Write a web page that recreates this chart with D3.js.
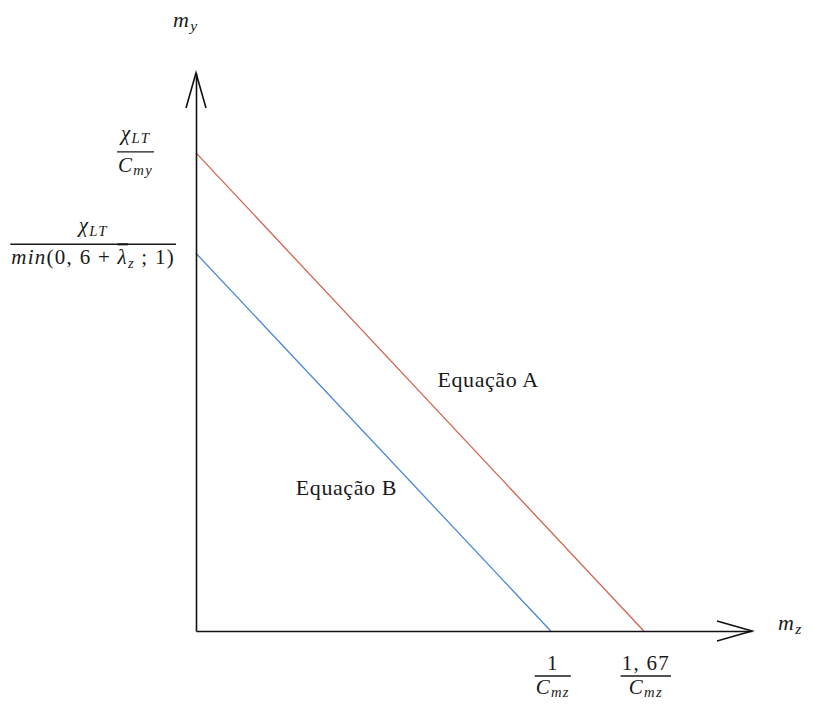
<!DOCTYPE html>
<html>
<head>
<meta charset="utf-8">
<script src="https://cdn.jsdelivr.net/npm/d3@7"></script>
<style>
  html, body { margin: 0; padding: 0; background: #fff; }
  svg { display: block; }
  text { font-family: "Liberation Serif", "Times New Roman", serif; fill: #1a1a1a; white-space: pre; }
</style>
</head>
<body>
<svg id="chart" width="813" height="704"></svg>
<script>
// Interaction diagram m_y / m_z for the two verification equations
const equations = ["Equação A", "Equação B"];
const yIntercepts = [1, 0.79];          // m_y at m_z = 0, in units of χLT/Cmy
const xIntercepts = [1.67, 1];          // m_z at m_y = 0, in units of 1/Cmz
const xTickValues = [1, 1.67];
const xTickNumerators = ["1", "1, 67"];
const xTickDenominators = ["C_{mz}", "C_{mz}"];
const yTickNumerators = ["χ_{LT}", "χ_{LT}"];
const yTickDenominators = ["C_{my}", "min(0, 6 + λ\u0304_{z} ; 1)"];
const axisLabels = ["m_{z}", "m_{y}"];

const colors = ["#d2644c", "#4a86d8"];

const svg = d3.select("#chart");

// schematic (non-proportional) horizontal scale
const x = d3.scalePow().exponent(0.454).domain([0, 2.69]).range([196, 752]);
const y = d3.scaleLinear().domain([0, 1.167]).range([631, 73]);

// --- minimal math-text renderer: letters italic, digits upright, _{..} subscripts,
//     a combining macron turns into an overline on its letter
function mathText(textSel, str, size) {
  const re = /_\{([^}]*)\}/g;
  const parts = [];
  let last = 0, m;
  while ((m = re.exec(str))) {
    if (m.index > last) parts.push({ s: str.slice(last, m.index), sub: false });
    parts.push({ s: m[1], sub: true });
    last = re.lastIndex;
  }
  if (last < str.length) parts.push({ s: str.slice(last), sub: false });
  textSel.attr("letter-spacing", size * 0.06);
  let shift = 0;
  parts.forEach(p => {
    const target = p.sub ? size * 0.16 : 0;
    const runs = p.s.match(/[A-Za-zα-ωΑ-Ω]\u0304|[A-Za-zα-ωΑ-Ω]+|[^A-Za-zα-ωΑ-Ω]+/g) || [];
    runs.forEach((r, i) => {
      const bar = r.includes("\u0304");
      const t = textSel.append("tspan").text(r.replace("\u0304", ""))
        .attr("font-style", /[A-Za-zα-ω]/.test(r) ? "italic" : "normal")
        .attr("font-size", p.sub ? size * 0.7 : size);
      if (bar) t.style("text-decoration", "overline");
      if (i === 0 && target !== shift) { t.attr("dy", target - shift); shift = target; }
    });
  });
  return textSel;
}

function fraction(g, num, den, size, numGap, denGap) {
  const n = mathText(g.append("text").attr("text-anchor", "middle").attr("y", -numGap), num, size);
  const d = mathText(g.append("text").attr("text-anchor", "middle").attr("y", denGap), den, size);
  const w = Math.max(n.node().getComputedTextLength(), d.node().getComputedTextLength()) + 2;
  g.append("line").attr("x1", -w / 2).attr("x2", w / 2)
    .attr("stroke", "#1a1a1a").attr("stroke-width", 1.3);
  return w;
}

// --- equation lines
equations.forEach((name, i) => {
  const pts = [[0, yIntercepts[i]], [xIntercepts[i], 0]];
  svg.append("path")
    .attr("d", d3.line().x(d => x(d[0])).y(d => y(d[1]))(pts))
    .attr("fill", "none")
    .attr("stroke", colors[i])
    .attr("stroke-width", 1.3);
});

// --- equation labels, placed beside their line
const labelT = [0.49, 0.64];
const labelDx = [22, -26];
equations.forEach((name, i) => {
  const t = labelT[i];
  const px = x(0) + t * (x(xIntercepts[i]) - x(0));
  const py = y(yIntercepts[i]) + t * (y(0) - y(yIntercepts[i]));
  svg.append("text")
    .attr("x", px + labelDx[i])
    .attr("y", py)
    .attr("text-anchor", labelDx[i] > 0 ? "start" : "end")
    .attr("font-size", 22)
    .attr("letter-spacing", 0.6)
    .text(name);
});

// --- axes
svg.append("g").attr("transform", `translate(0,${y(0)})`)
  .call(d3.axisBottom(x).tickValues([]).tickSizeOuter(0));
svg.append("g").attr("transform", `translate(${x(0)},0)`)
  .call(d3.axisLeft(y).tickValues([]).tickSizeOuter(0));
svg.selectAll(".domain").attr("stroke", "#111").attr("stroke-width", 1.6);

// open arrow heads
const ah = 35, aw = 10;
const xEnd = x.range()[1], yEnd = y.range()[1];
svg.append("path")
  .attr("d", `M${xEnd - ah},${y(0) - aw}L${xEnd},${y(0)}L${xEnd - ah},${y(0) + aw}`)
  .attr("fill", "none").attr("stroke", "#111").attr("stroke-width", 1.6);
svg.append("path")
  .attr("d", `M${x(0) - aw},${yEnd + ah}L${x(0)},${yEnd}L${x(0) + aw},${yEnd + ah}`)
  .attr("fill", "none").attr("stroke", "#111").attr("stroke-width", 1.6);

// axis names
mathText(svg.append("text").attr("x", xEnd + 26).attr("y", y(0) - 1), axisLabels[0], 22);
mathText(svg.append("text").attr("x", x(0) - 23).attr("y", 27), axisLabels[1], 22);

// --- tick labels as fractions
const mathSize = 21;
xTickValues.forEach((v, i) => {
  const g = svg.append("g").attr("transform", `translate(${x(v) + 2},${y(0) + 45})`);
  fraction(g, xTickNumerators[i], xTickDenominators[i], mathSize, 6, 18);
});
const yRight = [154, 176];
const yShift = [-1, -9];
yIntercepts.forEach((v, i) => {
  const g = svg.append("g");
  const w = fraction(g, yTickNumerators[i], yTickDenominators[i], mathSize, 12, 20);
  g.attr("transform", `translate(${yRight[i] - w / 2},${y(v) + yShift[i]})`);
});
</script>
</body>
</html>
